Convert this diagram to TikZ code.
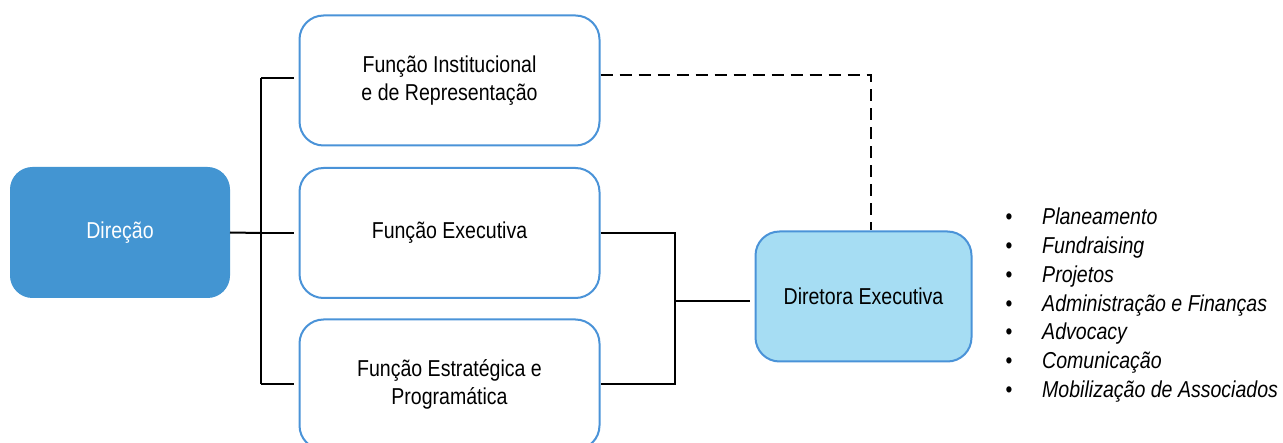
\documentclass[tikz,border=0pt]{standalone}
\usepackage{fontspec}
\setmainfont[FakeStretch=0.85]{Liberation Sans}
\definecolor{dirblue}{HTML}{4395D2}
\definecolor{edgeblue}{HTML}{4A93D8}
\definecolor{lightblue}{HTML}{A6DDF3}
\begin{document}
\begin{tikzpicture}[x=1pt,y=-1pt,
  txt/.style={font=\fontsize{23}{28}\selectfont},
  fbox/.style={txt, draw=edgeblue, line width=2pt, rounded corners=24pt, fill=white,
    minimum width=300pt, minimum height=130pt, align=center, inner sep=0pt},
  dirbox/.style={txt, fill=dirblue, draw=dirblue, line width=1pt, rounded corners=22pt,
    minimum width=219pt, minimum height=130pt, text=white, inner sep=0pt},
  execbox/.style={txt, fill=lightblue, draw=edgeblue, line width=2pt, rounded corners=24pt,
    minimum width=216pt, minimum height=130pt, inner sep=0pt},
  conn/.style={line width=2pt, black},
  dashconn/.style={line width=2pt, black, dash pattern=on 12pt off 7pt},
  item/.style={txt, font=\fontsize{23}{28}\selectfont\itshape, anchor=base west, inner sep=0pt},
  bul/.style={txt, anchor=base, inner sep=0pt}
]
\useasboundingbox (0,0) rectangle (1283,443);
\clip (0,0) rectangle (1283,443);

\node[dirbox] (dir) at (120,232.5) {Direção};
\node[fbox] (inst) at (449.5,80.5) {Função Institucional\\e de Representação};
\node[fbox] (exe) at (449.5,233) {Função Executiva};
\node[fbox] (est) at (449.5,384.5) {Função Estratégica e\\Programática};
\node[execbox] (de) at (863.5,296.5) {Diretora Executiva};

% left bus
\coordinate (busT) at (261,78);
\coordinate (busM) at (261,233);
\coordinate (busB) at (261,384);
\draw[conn] (dir.east) -- (busM);
\draw[conn] (busT) -- (busB);
\draw[conn] (busT) -- ([xshift=-5pt]inst.west |- busT);
\draw[conn] (busM) -- ([xshift=-5pt]exe.west);
\draw[conn] (busB) -- ([xshift=-5pt]est.west |- busB);

% right bus
\coordinate (rT) at (675,233);
\coordinate (rB) at (675,384);
\coordinate (rM) at (675,301);
\draw[conn] (exe.east) -- (rT) -- (rB) -- (est.east |- rB);
\draw[conn] (rM) -- ([xshift=-5pt]de.west |- rM);

% dashed
\coordinate (dc) at (871,75);
\draw[dashconn] (inst.east |- dc) -- (dc) -- (dc |- de.north);

% bullet list
\foreach \t [count=\i] in {Planeamento,Fundraising,Projetos,Administração e Finanças,Advocacy,Comunicação,Mobilização de Associados}{
  \node[bul] (b\i) at (1009,{225+28.7*(\i-1)}) {•};
  \node[item] (t\i) at (1042,{225+28.7*(\i-1)}) {\t};
}
\end{tikzpicture}
\end{document}
